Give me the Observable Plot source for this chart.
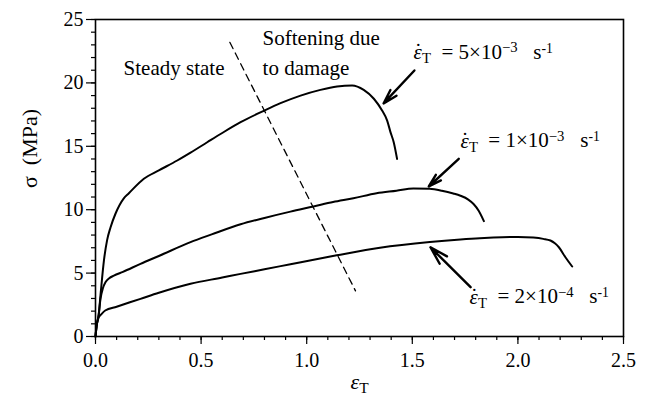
<!DOCTYPE html>
<html>
<head>
<meta charset="utf-8">
<script src="https://cdn.jsdelivr.net/npm/d3@7"></script>
<script src="https://cdn.jsdelivr.net/npm/@observablehq/plot@0.6"></script>
<style>
  html, body { margin: 0; padding: 0; background: #fff; }
  #chart { width: 650px; height: 405px; }
  #chart svg, #chart svg text, #chart svg tspan { font-family: "Liberation Serif", "Times New Roman", serif !important; }
</style>
</head>
<body>
<div id="chart"></div>
<script>
// ---- data ----
// strain rate 5e-3 /s
const xHigh = [0, 0.005, 0.015, 0.025, 0.04, 0.055, 0.071, 0.095, 0.134, 0.158, 0.229, 0.3, 0.387, 0.45, 0.529, 0.6, 0.687, 0.797, 0.876, 0.971, 1.065, 1.144, 1.215, 1.27, 1.318, 1.357, 1.381, 1.397, 1.412, 1.428];
const yHigh = [0, 0.8, 1.7, 3.5, 6.0, 7.6, 8.6, 9.7, 10.9, 11.3, 12.44, 13.1, 13.88, 14.5, 15.32, 16.05, 16.9, 17.8, 18.4, 19.0, 19.45, 19.72, 19.8, 19.45, 18.75, 17.82, 17.03, 16.1, 15.32, 14.0];
// strain rate 1e-3 /s
const xMid = [0, 0.005, 0.015, 0.024, 0.035, 0.048, 0.065, 0.087, 0.13, 0.213, 0.3, 0.45, 0.55, 0.687, 0.8, 0.923, 1.032, 1.125, 1.221, 1.331, 1.425, 1.505, 1.583, 1.64, 1.694, 1.728, 1.765, 1.79, 1.815, 1.839];
const yMid = [0, 0.8, 1.7, 3.0, 3.8, 4.3, 4.6, 4.8, 5.1, 5.73, 6.35, 7.44, 8.05, 8.85, 9.35, 9.85, 10.25, 10.6, 10.9, 11.3, 11.5, 11.68, 11.65, 11.5, 11.28, 11.1, 10.8, 10.45, 9.9, 9.1];
// strain rate 2e-4 /s
const xLow = [0, 0.005, 0.015, 0.025, 0.046, 0.1, 0.213, 0.3, 0.45, 0.6, 0.687, 0.8, 0.923, 1.142, 1.347, 1.583, 1.728, 1.82, 1.884, 2.0, 2.073, 2.12, 2.154, 2.175, 2.194, 2.225, 2.257];
const yLow = [0, 0.8, 1.5, 1.7, 2.05, 2.35, 2.97, 3.45, 4.16, 4.65, 4.94, 5.3, 5.7, 6.4, 7.0, 7.45, 7.65, 7.75, 7.8, 7.85, 7.8, 7.7, 7.57, 7.35, 7.04, 6.25, 5.52];

// dashed boundary between steady state and softening
const dashX = [0.636, 1.231];
const dashY = [23.2, 3.6];

// rate annotations
const rateMantissa = ["5", "1", "2"];
const rateExponent = ["\u22123", "\u22123", "\u22124"];
const rateLabelX = [1.506, 1.728, 1.771];
const rateLabelY = [21.9, 14.9, 2.6];
const arrowX1 = [1.510, 1.720, 1.776];
const arrowY1 = [20.98, 14.01, 3.89];
const arrowX2 = [1.364, 1.578, 1.586];
const arrowY2 = [18.38, 11.83, 7.04];

// region notes
const noteText = ["Steady state", "Softening due", "to damage"];
const noteX = [0.133, 0.791, 0.791];
const noteY = [20.6, 22.95, 20.6];

// axes
const xMajor = [0, 0.5, 1.0, 1.5, 2.0, 2.5];
const xMinor = d3.range(0, 26).map(i => i / 10);
const yMajor = [0, 5, 10, 15, 20, 25];
const yMinor = d3.range(0, 26);

// ---- build tables ----
const curves = [
  ...xHigh.map((x, i) => ({series: "5e-3", x, y: yHigh[i]})),
  ...xMid.map((x, i) => ({series: "1e-3", x, y: yMid[i]})),
  ...xLow.map((x, i) => ({series: "2e-4", x, y: yLow[i]}))
];
const dash = dashX.map((x, i) => ({x, y: dashY[i]}));
const labels = rateMantissa.map((m, i) => ({
  x: rateLabelX[i], y: rateLabelY[i],
  text: `\u03B5T = ${m}\u00D710${rateExponent[i]}  s-1`, m, e: rateExponent[i]
}));
const arrows = arrowX1.map((x1, i) => ({x1, y1: arrowY1[i], x2: arrowX2[i], y2: arrowY2[i]}));
const notes = noteText.map((t, i) => ({t, x: noteX[i], y: noteY[i]}));

const FONT = '"Liberation Serif", "Times New Roman", serif';

const plot = Plot.plot({
  width: 650,
  height: 405,
  marginLeft: 95,
  marginRight: 27,
  marginTop: 19,
  marginBottom: 69,
  style: {fontFamily: FONT, fontSize: "19px", color: "black", background: "white"},
  x: {domain: [0, 2.5]},
  y: {domain: [0, 25]},
  marks: [
    Plot.axisX({ticks: xMinor, tickSize: 4, text: null, strokeWidth: 1.2}),
    Plot.axisX({ticks: xMajor, tickSize: 8, tickPadding: 8, tickFormat: d3.format(".1f"), fontSize: 20, fontFamily: FONT, label: null, strokeWidth: 1.2}),
    Plot.axisY({ticks: yMinor, tickSize: 4, text: null, strokeWidth: 1.2}),
    Plot.axisY({ticks: yMajor, tickSize: 9, tickPadding: 3, fontSize: 20, fontFamily: FONT, label: null, strokeWidth: 1.2}),
    Plot.frame({stroke: "black", strokeWidth: 1.6}),
    Plot.line(curves, {x: "x", y: "y", z: "series", stroke: "black", strokeWidth: 2, curve: "monotone-x"}),
    Plot.line(dash, {x: "x", y: "y", stroke: "black", strokeWidth: 1.3, strokeDasharray: "7,5"}),
    Plot.arrow(arrows, {x1: "x1", y1: "y1", x2: "x2", y2: "y2", stroke: "black", strokeWidth: 2.4, headLength: 13, headAngle: 32}),
    Plot.text(notes, {x: "x", y: "y", text: "t", textAnchor: "start", lineAnchor: "bottom", fontSize: 21, fontFamily: FONT}),
    Plot.text(labels, {x: "x", y: "y", text: "text", textAnchor: "start", lineAnchor: "bottom", fontSize: 21, fontFamily: FONT}),
    Plot.text(["\u03B5T"], {frameAnchor: "bottom", dy: 52, fontSize: 22, lineAnchor: "bottom", fontFamily: FONT}),
    Plot.text(["\u03C3\u00A0\u00A0(MPa)"], {frameAnchor: "left", dx: -66, dy: 10, rotate: -90, fontSize: 22, fontFamily: FONT})
  ]
});

// rich text: dot-epsilon with subscript T, superscript exponents
const svg = d3.select(plot);
function epsT(el) {
  el.append("tspan").attr("font-style", "italic").text("\u03B5");
  el.append("tspan").attr("dx", "-0.34em").attr("dy", "-0.02em").text("\u02D9");
  el.append("tspan").attr("font-size", "70%").attr("dx", "0.02em").attr("dy", "0.32em").text("T");
}
svg.selectAll("text").each(function() {
  const el = d3.select(this);
  const s = this.textContent;
  if (s.startsWith("\u03B5T = ")) {
    const d = labels.find(l => l.text === s);
    el.text(null);
    epsT(el);
    el.append("tspan").attr("dy", "-0.21em").text("\u2002=\u00A0" + d.m + "\u00D710");
    el.append("tspan").attr("font-size", "70%").attr("dy", "-0.45em").text(d.e);
    el.append("tspan").attr("dy", "0.315em").text("\u00A0\u2002s");
    el.append("tspan").attr("font-size", "65%").attr("dy", "-0.45em").text("-1");
  } else if (s === "\u03B5T") {
    el.text(null);
    el.append("tspan").attr("font-style", "italic").text("\u03B5");
    el.append("tspan").attr("font-size", "70%").attr("dy", "0.3em").text("T");
  }
});

document.getElementById("chart").appendChild(plot);
</script>
</body>
</html>
